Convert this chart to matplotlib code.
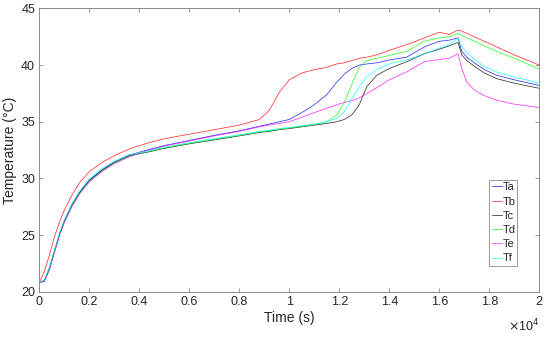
"""Temperature curves Ta..Tf versus time, MATLAB-style line chart."""

import matplotlib

matplotlib.use("Agg")
import matplotlib.pyplot as plt

plt.rcParams["font.family"] = ["Liberation Sans", "DejaVu Sans"]

# time samples (s)
time_s = [0, 200, 400, 600, 800, 1000, 1300, 1600, 2000, 2500, 3000, 3600, 4300,
          5000, 6000, 7000, 8000, 8800, 9200, 9600, 10000, 10500, 11000, 11500,
          11900, 12200, 12500, 12800, 13100, 13500, 14000, 14700, 15400, 16000,
          16400, 16750, 16900, 17100, 17400, 17800, 18300, 19000, 20000]

ta = [20.8, 21.0, 22.05, 23.55, 25.05, 26.25, 27.65, 28.75, 29.85, 30.75, 31.45, 32.05, 32.5,
      32.9, 33.35, 33.8, 34.2, 34.6, 34.8, 35.0, 35.2, 35.8, 36.5, 37.4,
      38.5, 39.2, 39.7, 40.0, 40.1, 40.2, 40.45, 40.7, 41.6, 42.1,
      42.2, 42.4, 41.2, 40.7, 40.2, 39.6, 39.1, 38.7, 38.2]

tb = [20.8, 21.8, 23.2, 24.8, 26.1, 27.2, 28.5, 29.6, 30.6, 31.4, 32.0, 32.6, 33.1,
      33.5, 33.9, 34.3, 34.7, 35.2, 36.0, 37.6, 38.7, 39.3, 39.6, 39.8,
      40.1, 40.2, 40.4, 40.6, 40.7, 40.9, 41.3, 41.8, 42.4, 42.9,
      42.7, 43.1, 43.0, 42.8, 42.5, 42.1, 41.6, 40.9, 40.0]

tc = [20.8, 20.95, 22.0, 23.5, 25.0, 26.2, 27.6, 28.7, 29.8, 30.7, 31.4, 32.0, 32.3,
      32.65, 33.05, 33.4, 33.75, 34.05, 34.15, 34.3, 34.4, 34.55, 34.7, 34.85,
      35.0, 35.2, 35.6, 36.5, 38.1, 39.1, 39.7, 40.3, 41.0, 41.4,
      41.7, 42.0, 40.9, 40.4, 39.9, 39.3, 38.8, 38.4, 37.95]

td = [20.8, 20.95, 21.95, 23.45, 24.95, 26.15, 27.55, 28.65, 29.75, 30.65, 31.35, 31.95, 32.35,
      32.7, 33.1, 33.45, 33.8, 34.1, 34.2, 34.35, 34.45, 34.6, 34.75, 35.0,
      35.6, 36.7, 38.3, 39.8, 40.4, 40.6, 40.85, 41.2, 42.1, 42.4,
      42.5, 42.8, 42.6, 42.4, 42.1, 41.7, 41.2, 40.6, 39.65]

te = [20.8, 20.9, 21.9, 23.4, 24.9, 26.1, 27.5, 28.6, 29.7, 30.6, 31.3, 31.9, 32.45,
      32.85, 33.3, 33.75, 34.15, 34.55, 34.7, 34.85, 35.0, 35.4, 35.8, 36.2,
      36.5, 36.7, 36.85, 37.1, 37.5, 38.0, 38.7, 39.4, 40.3, 40.5,
      40.6, 41.0, 39.7, 38.5, 37.8, 37.3, 36.9, 36.55, 36.25]

tf = [20.8, 21.05, 22.15, 23.65, 25.15, 26.35, 27.75, 28.85, 29.95, 30.85, 31.5, 32.1, 32.4,
      32.75, 33.15, 33.5, 33.85, 34.15, 34.25, 34.4, 34.5, 34.65, 34.8, 35.0,
      35.3, 35.9, 37.0, 38.1, 39.0, 39.6, 40.1, 40.45, 41.0, 41.5,
      41.8, 42.4, 41.6, 41.1, 40.5, 39.9, 39.4, 38.95, 38.4]

series_names = ["Ta", "Tb", "Tc", "Td", "Te", "Tf"]
series_colors = ["#0000FF", "#FF0000", "#000000", "#00FF00", "#FF00FF", "#00FFFF"]

x_ticks = [0, 2000, 4000, 6000, 8000, 10000, 12000, 14000, 16000, 18000, 20000]
y_ticks = [20, 25, 30, 35, 40, 45]

TEXT = "#262626"
AXIS = "#8C8C8C"

fig = plt.figure(figsize=(5.5, 3.37), dpi=100, facecolor="white")
ax = fig.add_axes([0.0715, 0.1344, 0.909, 0.8406])

for name, vals, color in zip(series_names, [ta, tb, tc, td, te, tf], series_colors):
    ax.plot(time_s, vals, color=color, lw=0.55, label=name, alpha=0.8)

ax.set_xlim(0, 20000)
ax.set_ylim(20, 45)
ax.set_xticks(x_ticks)
ax.set_xticklabels([f"{t / 1e4:g}" for t in x_ticks])
ax.set_yticks(y_ticks)

ax.tick_params(direction="in", length=3, width=0.6, colors=AXIS, labelcolor=TEXT,
               labelsize=9, top=True, right=True, pad=3)
for sp in ax.spines.values():
    sp.set_color(AXIS)
    sp.set_linewidth(0.7)

ax.set_xlabel("Time (s)", fontsize=10, color=TEXT, labelpad=2)
ax.set_ylabel("Temperature (°C)", fontsize=10, color=TEXT, labelpad=3)
ax.text(1.0, -0.09, r"$\times$10$^4$", transform=ax.transAxes, ha="right", va="top",
        fontsize=9, color=TEXT)

leg = ax.legend(loc="lower left", bbox_to_anchor=(0.899, 0.09, 0.057, 0.33),
                mode="expand", fontsize=8, handlelength=0.9, handletextpad=0.15,
                borderpad=0.25, labelspacing=0.38, borderaxespad=0, fancybox=False,
                framealpha=1)
leg.get_frame().set_edgecolor(AXIS)
leg.get_frame().set_linewidth(0.6)
for t in leg.get_texts():
    t.set_color(TEXT)

fig.savefig("out.png", dpi=100, facecolor="white")
